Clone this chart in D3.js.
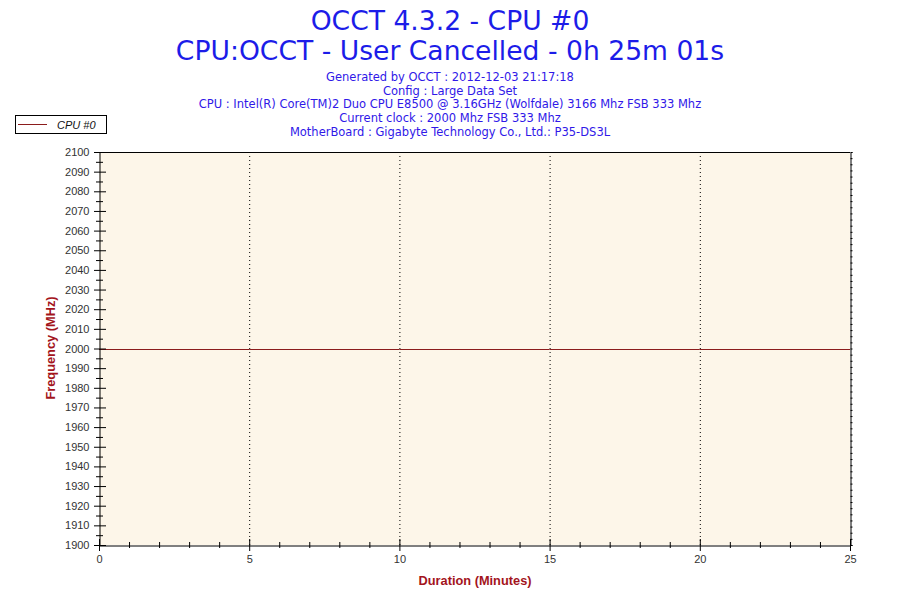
<!DOCTYPE html>
<html>
<head>
<meta charset="utf-8">
<script src="https://cdn.jsdelivr.net/npm/d3@7"></script>
<style>
  body { margin: 0; background: #fff; }
  text { font-family: "Liberation Sans", Arial, sans-serif; }
</style>
</head>
<body>
<svg id="chart" width="900" height="600"></svg>
<script>
// chart data
const titleLines = ["OCCT 4.3.2 - CPU #0", "CPU:OCCT - User Cancelled - 0h 25m 01s"];
const infoLines = [
  "Generated by OCCT : 2012-12-03 21:17:18",
  "Config : Large Data Set",
  "CPU : Intel(R) Core(TM)2 Duo CPU E8500 @ 3.16GHz (Wolfdale) 3166 Mhz FSB 333 Mhz",
  "Current clock : 2000 Mhz FSB 333 Mhz",
  "MotherBoard : Gigabyte Technology Co., Ltd.: P35-DS3L"
];
const seriesName = "CPU #0";
const minutes = [0, 5, 10, 15, 20, 25];
const freq = [2000, 2000, 2000, 2000, 2000, 2000];
const xTicks = [0, 5, 10, 15, 20, 25];
const yTicks = [1900, 1910, 1920, 1930, 1940, 1950, 1960, 1970, 1980, 1990, 2000,
                2010, 2020, 2030, 2040, 2050, 2060, 2070, 2080, 2090, 2100];

const svg = d3.select("#chart");
const plotL = 99, plotR = 850, plotT = 152, plotB = 545;

const x = d3.scaleLinear().domain([0, 25]).range([plotL, plotR]);
const y = d3.scaleLinear().domain([1900, 2100]).range([plotB, plotT]);

// titles
svg.selectAll(".title").data(titleLines).join("text")
  .attr("x", 450).attr("y", (d, i) => 30 + i * 30)
  .attr("text-anchor", "middle")
  .style("font-family", "'DejaVu Sans', Verdana, sans-serif")
  .style("font-size", "26.6px").attr("fill", "#1c1ce8").text(d => d);

svg.selectAll(".info").data(infoLines).join("text")
  .attr("x", 450).attr("y", (d, i) => 81 + i * 13.7)
  .attr("text-anchor", "middle")
  .style("font-family", "'DejaVu Sans', Verdana, sans-serif")
  .style("font-size", "11.5px").attr("fill", "#3018e8").text(d => d);

// plot background
svg.append("rect").attr("x", plotL).attr("y", plotT)
  .attr("width", plotR - plotL).attr("height", plotB - plotT)
  .attr("fill", "#fdf6e9");

// vertical dotted grid
svg.selectAll(".grid").data(xTicks.slice(1, -1)).join("line")
  .attr("x1", d => x(d) + 0.5).attr("x2", d => x(d) + 0.5)
  .attr("y1", plotT).attr("y2", plotB)
  .attr("stroke", "#000").attr("stroke-width", 1)
  .attr("stroke-dasharray", "1,3");

// series line
const line = d3.line().x(d => x(d[0])).y(d => Math.round(y(d[1])) + 0.5);
svg.append("path").datum(minutes.map((m, i) => [m, freq[i]]))
  .attr("d", line).attr("fill", "none")
  .attr("stroke", "#8b1c1c").attr("stroke-width", 1);

// frame top
svg.append("line").attr("x1", plotL).attr("x2", plotR).attr("y1", plotT + 0.5).attr("y2", plotT + 0.5)
  .attr("stroke", "#000");

// right axis with small ticks
const rightAxis = d3.axisRight(y).tickValues(d3.range(1900, 2100.01, 200 / 64)).tickSize(2).tickFormat("");
svg.append("g").attr("transform", `translate(${plotR + 0.5},0)`).call(rightAxis)
  .call(g => g.select(".domain").attr("stroke", "#000"));

// left axis: minor then major crossing ticks
const yMinor = d3.range(1905, 2100, 10);
svg.append("g").attr("transform", `translate(${plotL - 3},0)`)
  .call(d3.axisRight(y).tickValues(yMinor).tickSize(7).tickFormat(""))
  .call(g => g.select(".domain").remove());
svg.append("g").attr("transform", `translate(${plotL - 5},0)`)
  .call(d3.axisRight(y).tickValues(yTicks).tickSize(12).tickFormat(""))
  .call(g => g.select(".domain").remove());
svg.append("g").attr("transform", `translate(${plotL + 0.5},0)`)
  .call(d3.axisLeft(y).tickValues(yTicks).tickSize(0).tickPadding(10).tickFormat(d3.format("d")))
  .call(g => g.select(".domain").attr("stroke", "#000"))
  .call(g => g.selectAll("text").style("font-size", "11px").attr("fill", "#333"));

// bottom axis
const xMinor = d3.range(0, 26).filter(d => d % 5 !== 0);
svg.append("g").attr("transform", `translate(0,${plotB - 3})`)
  .call(d3.axisBottom(x).tickValues(xMinor).tickSize(6).tickFormat(""))
  .call(g => g.select(".domain").remove());
svg.append("g").attr("transform", `translate(0,${plotB - 6})`)
  .call(d3.axisBottom(x).tickValues(xTicks).tickSize(12).tickFormat(""))
  .call(g => g.select(".domain").remove());
svg.append("g").attr("transform", `translate(0,${plotB + 0.5})`)
  .call(d3.axisBottom(x).tickValues(xTicks).tickSize(0).tickPadding(10))
  .call(g => g.select(".domain").attr("stroke", "#000"))
  .call(g => g.selectAll("text").style("font-size", "11px").attr("fill", "#333"));

svg.selectAll(".tick line").attr("stroke", "#000");

// axis titles
svg.append("text").attr("x", 475).attr("y", 585).attr("text-anchor", "middle")
  .style("font-size", "12.8px").style("font-weight", "bold")
  .attr("fill", "#a3141c").text("Duration (Minutes)");
svg.append("text").attr("transform", "translate(55,348) rotate(-90)").attr("text-anchor", "middle")
  .style("font-size", "12.8px").style("font-weight", "bold")
  .attr("fill", "#a3141c").text("Frequency (MHz)");

// legend
svg.append("rect").attr("x", 15.5).attr("y", 115.5).attr("width", 91).attr("height", 18)
  .attr("fill", "#fff").attr("stroke", "#000");
svg.append("line").attr("x1", 18).attr("x2", 47).attr("y1", 124.5).attr("y2", 124.5)
  .attr("stroke", "#8b1c1c");
svg.append("text").attr("x", 57).attr("y", 128.5)
  .style("font-size", "11px").style("font-style", "italic")
  .attr("fill", "#111").text(seriesName);
</script>
</body>
</html>
